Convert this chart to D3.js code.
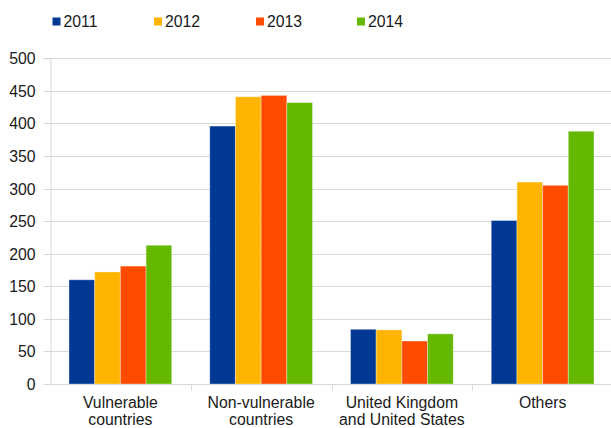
<!DOCTYPE html>
<html>
<head>
<meta charset="utf-8">
<script src="https://cdn.jsdelivr.net/npm/d3@7"></script>
<style>
  html, body { margin: 0; padding: 0; background: #fff; }
  svg { display: block; }
  svg text { font-family: "Liberation Sans", Arial, sans-serif; }
</style>
</head>
<body>
<svg id="chart" width="611" height="428"></svg>
<script>
const categories = [["Vulnerable", "countries"], ["Non-vulnerable", "countries"], ["United Kingdom", "and United States"], ["Others"]];
const years = ["2011", "2012", "2013", "2014"];
const colors = ["#003894", "#FFB400", "#FF4B00", "#65B800"];
const v2011 = [160, 396, 84, 251];
const v2012 = [172, 441, 83, 310];
const v2013 = [181, 443, 66, 305];
const v2014 = [213, 432, 77, 388];
const seriesValues = [v2011, v2012, v2013, v2014];
const yTicks = [0, 50, 100, 150, 200, 250, 300, 350, 400, 450, 500];

const svg = d3.select("#chart");
const mLeft = 50, mRight = 613, mTop = 58.3, mBottom = 384;
const fs = 15.8;

const x0 = d3.scaleBand().domain(d3.range(categories.length)).range([mLeft, mRight]).padding(0);
const bw = x0.bandwidth();
const x1 = d3.scaleBand().domain(d3.range(years.length)).range([bw * 0.135, bw * 0.865]).padding(0);
const y = d3.scaleLinear().domain([0, 500]).range([mBottom, mTop]);

// gridlines
svg.append("g").selectAll("line").data(yTicks.filter(d => d > 0)).join("line")
  .attr("x1", mLeft).attr("x2", 611)
  .attr("y1", d => Math.round(y(d)) + 0.5).attr("y2", d => Math.round(y(d)) + 0.5)
  .attr("stroke", "#d9d9d9").attr("stroke-width", 1);

// y axis
const yAxis = svg.append("g").attr("transform", `translate(${mLeft + 0.5},0)`)
  .call(d3.axisLeft(y).tickValues(yTicks).tickSize(7).tickPadding(8).tickFormat(d3.format("d")));
yAxis.attr("font-family", null).attr("font-size", null);
yAxis.select(".domain").attr("stroke", "#d9d9d9");
yAxis.selectAll(".tick line").attr("stroke", "#d9d9d9");
yAxis.selectAll(".tick").attr("transform", d => `translate(0,${Math.round(y(d)) + 0.5})`);
yAxis.selectAll("text").attr("font-size", fs).attr("fill", "#1a1a1a");

// bars
const groups = svg.append("g").selectAll("g").data(categories.map((c, i) => i)).join("g")
  .attr("transform", i => `translate(${x0(i)},0)`);
groups.selectAll("rect").data(i => seriesValues.map((s, k) => ({k, v: s[i]}))).join("rect")
  .attr("x", d => x1(d.k)).attr("width", x1.bandwidth())
  .attr("y", d => y(d.v)).attr("height", d => mBottom - y(d.v))
  .attr("fill", d => colors[d.k])
  .attr("stroke", "rgba(255,255,255,0.35)").attr("stroke-width", 1);

// x axis
const xAxis = svg.append("g").attr("transform", `translate(0,${mBottom + 0.5})`);
xAxis.append("line").attr("x1", mLeft).attr("x2", 611).attr("y1", 0).attr("y2", 0).attr("stroke", "#d9d9d9");
xAxis.selectAll(".sep").data(d3.range(1, categories.length)).join("line")
  .attr("x1", i => Math.round(x0(i)) + 0.5).attr("x2", i => Math.round(x0(i)) + 0.5)
  .attr("y1", 0).attr("y2", 6).attr("stroke", "#d9d9d9");
const labels = xAxis.selectAll("text").data(categories).join("text")
  .attr("x", (c, i) => x0(i) + bw / 2)
  .attr("text-anchor", "middle").attr("font-size", fs).attr("fill", "#1a1a1a");
labels.each(function(c) {
  const t = d3.select(this);
  c.forEach((line, j) => {
    t.append("tspan").attr("x", t.attr("x")).attr("y", 23.5 + j * 16.5).text(line);
  });
});

// legend
const legendX = [52.5, 154, 256, 357];
const lg = svg.append("g").selectAll("g").data(years).join("g")
  .attr("transform", (d, i) => `translate(${legendX[i]},0)`);
lg.append("rect").attr("x", 0).attr("y", 17.5).attr("width", 8).attr("height", 8)
  .attr("fill", (d, i) => colors[i]);
lg.append("text").attr("x", 11).attr("y", 27).attr("font-size", fs).attr("fill", "#1a1a1a").text(d => d);
</script>
</body>
</html>
